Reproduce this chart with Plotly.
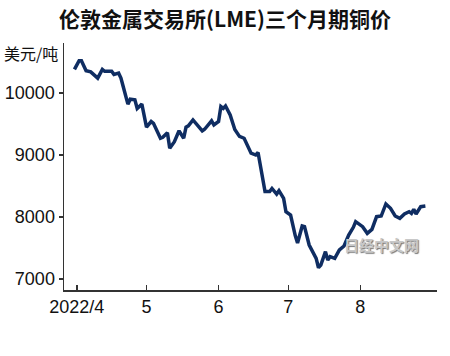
import plotly.graph_objects as go

dates = [
    "2022-03-31", "2022-04-02", "2022-04-03", "2022-04-05", "2022-04-07", "2022-04-10",
    "2022-04-12", "2022-04-13", "2022-04-16", "2022-04-17", "2022-04-19", "2022-04-20",
    "2022-04-21", "2022-04-23", "2022-04-24", "2022-04-26", "2022-04-27", "2022-04-29",
    "2022-05-01", "2022-05-03", "2022-05-04", "2022-05-07", "2022-05-08", "2022-05-10",
    "2022-05-11", "2022-05-13", "2022-05-15", "2022-05-17", "2022-05-18", "2022-05-19",
    "2022-05-21", "2022-05-23", "2022-05-25", "2022-05-26", "2022-05-29", "2022-05-30",
    "2022-06-01", "2022-06-02", "2022-06-03", "2022-06-04", "2022-06-06", "2022-06-08",
    "2022-06-10", "2022-06-12", "2022-06-15", "2022-06-17", "2022-06-18", "2022-06-21",
    "2022-06-23", "2022-06-24", "2022-06-26", "2022-06-27", "2022-06-29", "2022-06-30",
    "2022-07-02", "2022-07-04", "2022-07-05", "2022-07-07", "2022-07-08", "2022-07-10",
    "2022-07-12", "2022-07-13", "2022-07-14", "2022-07-15", "2022-07-17", "2022-07-18",
    "2022-07-19", "2022-07-21", "2022-07-23", "2022-07-25", "2022-07-27", "2022-07-29",
    "2022-07-30", "2022-08-01", "2022-08-02", "2022-08-04", "2022-08-06", "2022-08-08",
    "2022-08-10", "2022-08-12", "2022-08-14", "2022-08-16", "2022-08-18", "2022-08-20",
    "2022-08-22", "2022-08-23", "2022-08-24", "2022-08-25", "2022-08-27", "2022-08-29",
]
prices = [
    10380, 10520, 10520, 10360, 10340, 10240,
    10380, 10350, 10350, 10300, 10320, 10240,
    10100, 9820, 9900, 9890, 9750, 9820,
    9450, 9540, 9510, 9270, 9285, 9360,
    9110, 9215, 9390, 9270, 9450, 9470,
    9565, 9470, 9390, 9415, 9550, 9485,
    9540, 9780, 9750, 9790, 9645, 9410,
    9300, 9270, 9030, 9000, 9040, 8410,
    8410, 8460, 8370, 8425, 8300, 8086,
    8032, 7700, 7580, 7855, 7845, 7548,
    7390, 7333, 7182, 7226, 7441, 7306,
    7360, 7333, 7468, 7532, 7710, 7834,
    7925, 7860, 7844, 7737, 7801, 8005,
    8016, 8210, 8140, 8016, 7978, 8048,
    8086, 8059, 8124, 8048, 8167, 8177,
]

x_tick_vals = ["2022-04-01", "2022-05-01", "2022-06-01", "2022-07-01", "2022-08-01"]
x_tick_text = ["2022/4", "5", "6", "7", "8"]
y_tick_vals = [7000, 8000, 9000, 10000]
y_tick_text = ["7000", "8000", "9000", "10000"]

title_text = "伦敦金属交易所(LME)三个月期铜价"
unit_text = "美元/吨"
watermark_text = "日经中文网"

fig = go.Figure()
fig.add_trace(go.Scatter(
    x=dates, y=prices, mode="lines",
    line=dict(color="#0f2d62", width=3.5),
    hoverinfo="skip",
))

tick_font = dict(family="Liberation Sans Narrow, Liberation Sans, Arial, sans-serif", size=18, color="#111111")

fig.update_layout(
    template="none",
    width=450, height=356,
    margin=dict(l=64, r=13, t=43, b=66),
    paper_bgcolor="white", plot_bgcolor="white",
    showlegend=False,
    title=dict(
        text="<b>" + title_text + "</b>",
        x=0.5, xanchor="center", y=0.945, yanchor="middle",
        font=dict(family="Noto Sans CJK SC", size=21, color="#111111"),
    ),
    xaxis=dict(
        type="date", automargin=False,
        range=["2022-03-26 12:00", "2022-09-03"],
        tickvals=x_tick_vals, ticktext=x_tick_text,
        ticks="inside", ticklen=5, tickcolor="#333333", tickwidth=1.5,
        showline=True, linecolor="#333333", linewidth=1.5,
        showgrid=False, zeroline=False,
        tickfont=tick_font,
    ),
    yaxis=dict(
        automargin=False,
        range=[6823, 10806],
        tickvals=y_tick_vals, ticktext=y_tick_text,
        ticks="outside", ticklen=4, tickcolor="#333333", tickwidth=1.5,
        showline=True, linecolor="#333333", linewidth=1.5,
        showgrid=False, zeroline=False,
        tickfont=tick_font,
    ),
    annotations=[
        dict(
            text=unit_text, xref="paper", yref="paper",
            x=-0.012, y=0.958, xanchor="right", yanchor="middle",
            showarrow=False,
            font=dict(family="Noto Sans CJK SC", size=16, color="#111111"),
        ),
        dict(
            text="<b>" + watermark_text + "</b>", xref="paper", yref="paper",
            x=0.745, y=0.186, xanchor="left", yanchor="middle",
            showarrow=False,
            font=dict(family="Noto Sans CJK SC", size=15, color="#c8c8c8",
                      shadow="1px 1px 1px #777777"),
        ),
    ],
)

fig.write_html(
    "out.html",
    config={"displayModeBar": False, "staticPlot": True},
    post_script="document.body.style.margin='0';",
)
